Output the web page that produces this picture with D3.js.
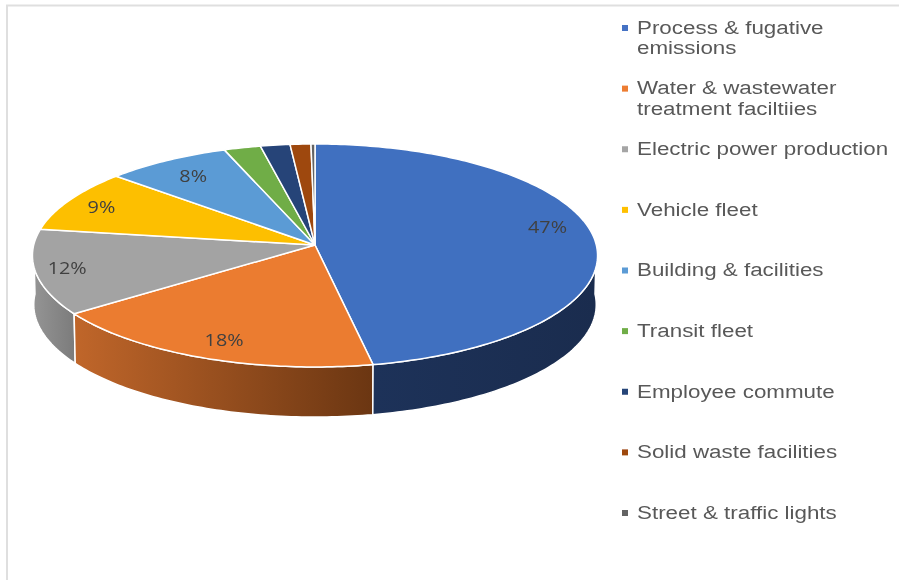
<!DOCTYPE html>
<html><head><meta charset="utf-8">
<script src="https://cdn.jsdelivr.net/npm/d3@7"></script>
<style>html,body{margin:0;padding:0;background:#fff}svg{display:block}</style>
</head><body><svg id="c" width="899" height="580"></svg>
<script>
(function(){
const categories = ["Process & fugative|emissions","Water & wastewater|treatment faciltiies","Electric power production","Vehicle fleet","Building & facilities","Transit fleet","Employee commute","Solid waste facilities","Street & traffic lights"];
const shares = [47, 18, 12.3, 9.2, 7.8, 2.3, 1.85, 1.3, 0.25];
const percentLabels = ["47%","18%","12%","9%","8%","","","",""];
const colors = ["#4070c0","#eb7c30","#a3a3a3","#fdbf00","#5b9bd5","#70ad47","#264478","#9e480e","#636363"];
const legendMarkers = ["#4472c4","#ed7d31","#a5a5a5","#ffc000","#5b9bd5","#70ad47","#264478","#9e480e","#636363"];
const sideStops = [["#1d3259","#1a2c4e"],["#c0662a","#6b3612"],["#7b7b7b","#959595"]];

const svg = d3.select("#c");
const defs = svg.append("defs");
defs.append("filter").attr("id","soft").append("feGaussianBlur").attr("stdDeviation",0.35);

// frame
const frame = svg.append("g").attr("fill","none").attr("stroke","#dfdfdf").attr("stroke-width",2);
frame.append("path").attr("d",d3.line()([[7,580],[7,5.5],[899,5.5]]));

// perspective projection of the disc
const K = 0.094;
const TOP = {cx:315, cy:245, a:281.3, b:110.5};
const BOT = {cx:315, cy:294, a:280, b:111.5};
function proj(ang, f, d){
  const u = f*Math.sin(ang), v = -f*Math.cos(ang), w = 1 - K*v;
  return [d.cx + d.a*u/w, d.cy + d.b*v/w];
}
const arcs = d3.pie().sort(null).value(d=>d)(shares);
const sample = (a,b) => { const n = Math.max(2,Math.ceil(Math.abs(b-a)*60)); return d3.range(n+1).map(i=>a+(b-a)*i/n); };
const line = d3.line();

// side walls: only the three front slices are seen
const sides = svg.append("g");
[2,1,0].forEach(i=>{
  const s = arcs[i];
  const a0 = Math.max(s.startAngle, Math.PI/2), a1 = Math.min(s.endAngle, 3*Math.PI/2);
  const t = sample(a0,a1).map(x=>proj(x,1,TOP));
  const b = sample(a0,a1).map(x=>proj(x,1,BOT)).reverse();
  const xs = t.concat(b).map(p=>p[0]);
  const g = defs.append("linearGradient").attr("id","side"+i).attr("gradientUnits","userSpaceOnUse")
    .attr("x1",d3.min(xs)).attr("x2",d3.max(xs)).attr("y1",0).attr("y2",0);
  const st = i===2 ? [sideStops[2][1],sideStops[2][0]] : sideStops[i];
  g.append("stop").attr("offset",0).attr("stop-color",st[0]);
  g.append("stop").attr("offset",1).attr("stop-color",st[1]);
  sides.append("path").attr("d",line(t.concat(b))+"Z").attr("fill",`url(#side${i})`)
    .attr("stroke","#fff").attr("stroke-width",1.5).attr("stroke-linejoin","round");
});

// top face
const face = svg.append("g");
arcs.forEach((s,i)=>{
  const pts = [proj(0,0,TOP)].concat(sample(s.startAngle,s.endAngle).map(x=>proj(x,1,TOP)));
  face.append("path").attr("d",line(pts)+"Z").attr("fill",colors[i])
    .attr("stroke","#fff").attr("stroke-width",1.5).attr("stroke-linejoin","round");
});

// data labels
const labelFrac = 0.84;
const labelNudge = [[-1,-9],[3,2],[-14,1],[-6,0],[4,3]];
const lab = svg.append("g").attr("font-family","'Open Sans','DejaVu Sans',sans-serif").attr("font-size",16.5).attr("fill","#404040").attr("text-anchor","middle").attr("filter","url(#soft)");
percentLabels.forEach((t,i)=>{
  if(!t) return;
  const p = proj((arcs[i].startAngle+arcs[i].endAngle)/2,labelFrac,TOP);
  lab.append("text").attr("transform",`translate(${p[0]+labelNudge[i][0]},${p[1]+labelNudge[i][1]}) scale(1.2,1)`).attr("dy","0.35em").text(t);
});

// legend
const legendY = d3.scalePoint().domain(categories).range([28,513]);
const leg = svg.append("g").attr("font-family","'Liberation Sans',Arial,sans-serif").attr("font-size",19).attr("fill","#595959").attr("filter","url(#soft)");
categories.forEach((c,i)=>{
  const y = legendY(c);
  leg.append("rect").attr("x",622).attr("y",y-3).attr("width",6).attr("height",6).attr("fill",legendMarkers[i]);
  c.split("|").forEach((ln,j)=>{
    leg.append("text").attr("transform",`translate(637,${y-0.8+j*20.5}) scale(1.178,1)`).attr("dy","0.35em").text(ln);
  });
});
})();
</script></body></html>
